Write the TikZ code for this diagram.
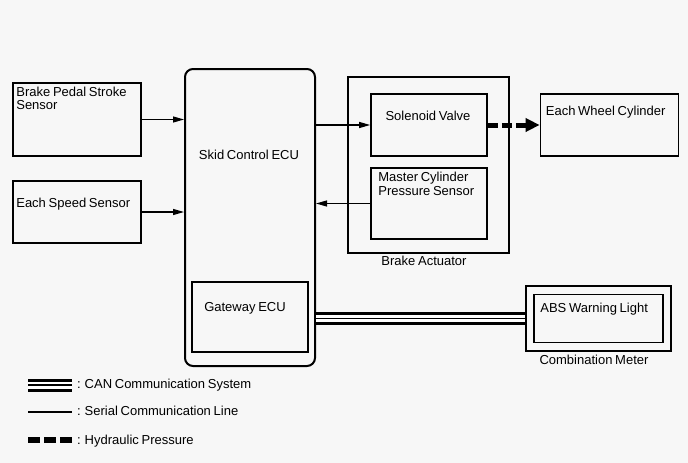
\documentclass[tikz,border=0pt]{standalone}
\usepackage{fontspec}
\setmainfont[WordSpace=0.75]{Liberation Sans}
\usetikzlibrary{arrows.meta,positioning,calc}

\begin{document}
\begin{tikzpicture}[
    x=1pt, y=-1pt,
    box/.style={draw, line width=1.7pt, inner sep=0pt},
    tag/.style={inner sep=0pt, align=left, font=\fontsize{13}{13.5}\selectfont},
    arr/.style={-{Triangle[length=11pt,width=6pt]}, line width=1.2pt},
    hyd/.style={-{Triangle[length=14pt,width=13pt]}, line width=5pt, dash pattern=on 10pt off 4pt},
    can/.style={line width=13pt, postaction={draw, white, line width=7pt}, postaction={draw, black, line width=1.5pt}}
]
\fill[black!3] (0,0) rectangle (688,463);

\node[box, minimum width=128pt, minimum height=73pt] (pedal) at (77,119.5) {};
\node[box, minimum width=128pt, minimum height=62pt] (speed) at (77,212) {};
\node[box, rounded corners=8pt, line width=2pt, minimum width=130pt, minimum height=297pt] (skid) at (250,217.5) {};
\node[box, minimum width=116pt, minimum height=70pt] (gateway) at (250,317) {};
\node[box, minimum width=161pt, minimum height=176pt] (actuator) at (428.5,165) {};
\node[box, minimum width=116pt, minimum height=62pt] (valve) at (429,125) {};
\node[box, minimum width=116pt, minimum height=71pt] (mcps) at (429,203.5) {};
\node[box, minimum width=138pt, minimum height=62pt] (wheel) at (609.5,125) {};
\node[box, minimum width=145pt, minimum height=65pt] (meter) at (598.5,318.5) {};
\node[box, minimum width=129pt, minimum height=48pt] (abs) at (598.5,318.5) {};

\node[tag, anchor=north west] (pedaltxt) at ([shift={(4,4.5)}]pedal.north west) {Brake Pedal Stroke\\Sensor};
\node[tag, anchor=north west] (speedtxt) at ([shift={(4,17.5)}]speed.north west) {Each Speed Sensor};
\node[tag, anchor=base] (skidtxt) at (249,159) {Skid Control ECU};
\node[tag, anchor=base] (gatetxt) at (245,311) {Gateway ECU};
\node[tag, anchor=base] (valvetxt) at (428,120) {Solenoid Valve};
\node[tag, anchor=north west] (mcpstxt) at ([shift={(8,5)}]mcps.north west) {Master Cylinder\\Pressure Sensor};
\node[tag, anchor=north west] (wheeltxt) at ([shift={(6,12.5)}]wheel.north west) {Each Wheel Cylinder};
\node[tag, anchor=north west] (abstxt) at ([shift={(7,9)}]abs.north west) {ABS Warning Light};
\node[tag, anchor=base] (acttxt) at (424,265) {Brake Actuator};
\node[tag, anchor=base] (metertxt) at (594,364) {Combination Meter};

\draw[arr] (pedal.east) -- (pedal.east -| skid.west);
\draw[arr] (speed.east) -- (speed.east -| skid.west);
\draw[arr] (valve.west -| skid.east) -- (valve.west);
\draw[arr] (mcps.west) -- (mcps.west -| skid.east);
\draw[hyd] (valve.east) -- (wheel.west);
\draw[can] (meter.west -| skid.east) -- (meter.west);

\coordinate (canA) at (28,385);
\coordinate (canB) at (72,385);
\coordinate (serA) at (28,412);
\coordinate (serB) at (72,412);
\coordinate (hydA) at (28,440);
\coordinate (hydB) at (72,440);
\draw[can] (canA) -- (canB);
\draw[line width=1.2pt] (serA) -- (serB);
\draw[line width=6pt, dash pattern=on 12pt off 4pt] (hydA) -- (hydB);
\node[tag, anchor=base west] (cantxt) at (77,388) {: CAN Communication System};
\node[tag, anchor=base west] (sertxt) at (77,415) {: Serial Communication Line};
\node[tag, anchor=base west] (hydtxt) at (77,444) {: Hydraulic Pressure};
\end{tikzpicture}
\end{document}
